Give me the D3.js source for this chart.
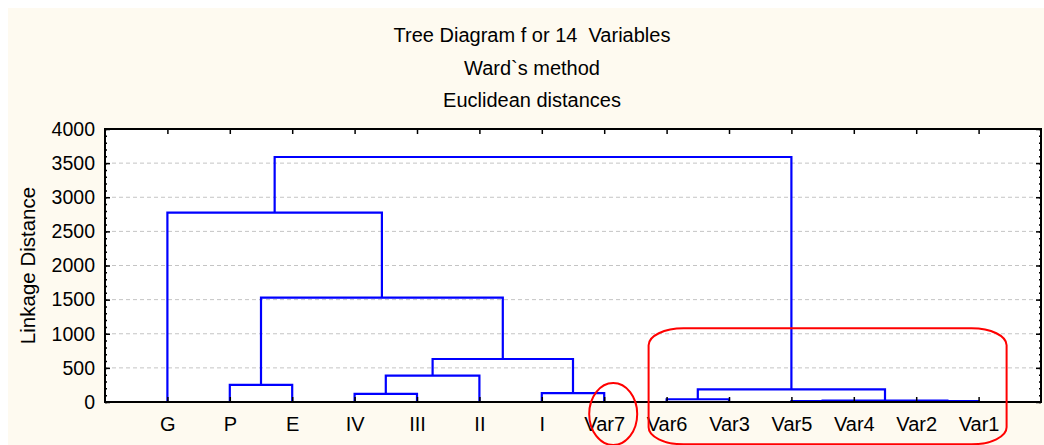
<!DOCTYPE html>
<html>
<head>
<meta charset="utf-8">
<script src="https://cdn.jsdelivr.net/npm/d3@7"></script>
<style>
  body { margin: 0; background: #fff; }
  svg text { font-family: "Liberation Sans", Arial, sans-serif; fill: #000; }
</style>
</head>
<body>
<script>
const width = 1044;
const height = 445;

// leaves in dendrogram order
const leaves = ['G', 'P', 'E', 'IV', 'III', 'II', 'I', 'Var7', 'Var6', 'Var3', 'Var5', 'Var4', 'Var2', 'Var1'];
// merges: node ids 0..13 are leaves, each merge makes a new node 14, 15, ...
const mergeLeft = [1, 3, 15, 6, 16, 14, 0, 8, 10, 12, 22, 21, 20];
const mergeRight = [2, 4, 5, 7, 17, 18, 19, 9, 11, 13, 23, 24, 25];
const mergeHeight = [250, 120, 385, 130, 630, 1530, 2775, 40, 15, 12, 20, 185, 3590];
const yTicks = [0, 500, 1000, 1500, 2000, 2500, 3000, 3500, 4000];
const titles = ['Tree Diagram f or 14  Variables', 'Ward`s method', 'Euclidean distances'];

const plot = {left: 105, right: 1041, top: 129, bottom: 402};

const svg = d3.select('body')
    .append('svg')
    .attr('width', width)
    .attr('height', height);

svg.append('rect')
    .attr('x', 8).attr('y', 8)
    .attr('width', width - 8).attr('height', height - 8)
    .attr('fill', '#fefaf0');

svg.append('rect')
    .attr('x', plot.left).attr('y', plot.top)
    .attr('width', plot.right - plot.left).attr('height', plot.bottom - plot.top)
    .attr('fill', '#fff');

const x = d3.scalePoint().domain(leaves).range([plot.left, plot.right]).padding(1);
const y = d3.scaleLinear().domain([0, 4000]).range([plot.bottom, plot.top]);

// grid
svg.append('g')
    .selectAll('line')
    .data(yTicks.filter(d => d > 0 && d < 4000))
    .enter()
    .append('line')
        .attr('x1', plot.left).attr('x2', plot.right)
        .attr('y1', d => y(d)).attr('y2', d => y(d))
        .attr('stroke', '#c4c4c4')
        .attr('stroke-dasharray', '4,3');

// titles
svg.append('g')
    .selectAll('text')
    .data(titles)
    .enter()
    .append('text')
        .attr('x', 532)
        .attr('y', (d, i) => 42 + i * 32.5)
        .attr('text-anchor', 'middle')
        .style('font-size', '20px')
        .style('white-space', 'pre')
        .text(d => d);

// dendrogram
const nodes = leaves.map(d => ({x: x(d), h: 0}));
const links = [];
mergeHeight.forEach((h, i) => {
    const a = nodes[mergeLeft[i]], b = nodes[mergeRight[i]];
    links.push({a, b, h});
    nodes.push({x: (a.x + b.x) / 2, h});
});

svg.append('g')
    .selectAll('path')
    .data(links)
    .enter()
    .append('path')
        .attr('d', d => `M${d.a.x},${y(d.a.h)}V${y(d.h)}H${d.b.x}V${y(d.b.h)}`)
        .attr('fill', 'none')
        .attr('stroke', '#0000ff')
        .attr('stroke-width', 2.2);

// axes
const minor = d3.range(0, 4001, 100);
function styleAxis(g) {
    g.select('.domain').remove();
    g.selectAll('line').attr('stroke', '#000').attr('stroke-width', 1.5);
    g.selectAll('text').style('font-size', '19.5px').attr('fill', '#000');
}
svg.append('g')
    .attr('transform', `translate(${plot.left},0)`)
    .call(d3.axisLeft(y).tickValues(minor).tickSize(-2).tickFormat(''))
    .call(styleAxis);
svg.append('g')
    .attr('transform', `translate(${plot.right},0)`)
    .call(d3.axisRight(y).tickValues(minor).tickSize(-2).tickFormat(''))
    .call(styleAxis);
svg.append('g')
    .attr('transform', `translate(${plot.left},0)`)
    .call(d3.axisLeft(y).tickValues(yTicks).tickSizeInner(-5).tickSizeOuter(0).tickPadding(10).tickFormat(d3.format('d')))
    .call(styleAxis);
svg.append('g')
    .attr('transform', `translate(${plot.right},0)`)
    .call(d3.axisRight(y).tickValues(yTicks).tickSizeInner(-5).tickSizeOuter(0).tickFormat(''))
    .call(styleAxis);
svg.append('g')
    .attr('transform', `translate(0,${plot.bottom})`)
    .call(d3.axisBottom(x).tickSizeInner(-5).tickSizeOuter(0).tickPadding(15))
    .call(styleAxis)
    .selectAll('text').style('font-size', '20px');
svg.append('g')
    .attr('transform', `translate(0,${plot.top})`)
    .call(d3.axisTop(x).tickSizeInner(-5).tickSizeOuter(0).tickFormat(''))
    .call(styleAxis);

// frame
svg.append('rect')
    .attr('x', plot.left).attr('y', plot.top)
    .attr('width', plot.right - plot.left).attr('height', plot.bottom - plot.top)
    .attr('fill', 'none')
    .attr('stroke', '#000')
    .attr('stroke-width', 2);

svg.append('text')
    .attr('transform', `translate(35,${(plot.top + plot.bottom) / 2}) rotate(-90)`)
    .attr('text-anchor', 'middle')
    .style('font-size', '20.5px')
    .text('Linkage Distance');

// red annotations
svg.append('ellipse')
    .attr('cx', x('Var7') + 9).attr('cy', y(0) + 12)
    .attr('rx', 24).attr('ry', 31)
    .attr('fill', 'none').attr('stroke', '#ff0000').attr('stroke-width', 2);
svg.append('rect')
    .attr('x', x('Var6') - 18).attr('y', y(1080))
    .attr('width', x('Var1') - x('Var6') + 46).attr('height', 116)
    .attr('rx', 35).attr('ry', 17)
    .attr('fill', 'none').attr('stroke', '#ff0000').attr('stroke-width', 2);
</script>
</body>
</html>
